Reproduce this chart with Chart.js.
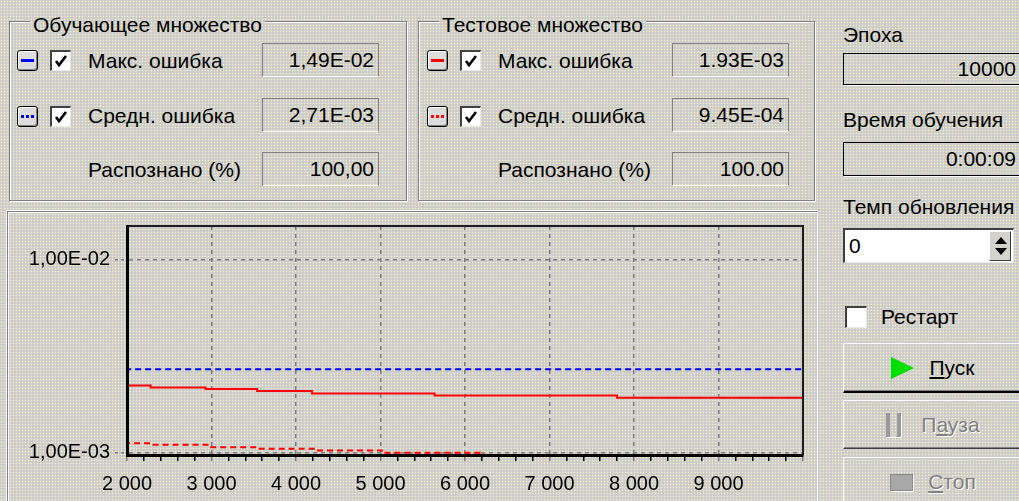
<!DOCTYPE html>
<html lang="ru">
<head>
<meta charset="UTF-8">
<title>Обучение сети</title>
<script src="https://cdn.jsdelivr.net/npm/chart.js@4.4.7/dist/chart.umd.min.js"></script>
<style>
  * { margin: 0; padding: 0; box-sizing: border-box; }
  html, body { width: 1019px; height: 501px; overflow: hidden; }
  body {
    position: relative;
    font-family: 'Liberation Sans', Arial, sans-serif;
    font-size: 21px;
    color: #000;
  }
  .bg, body {
    background-color: #cbcbc9;
    background-image: radial-gradient(circle, rgba(248,244,205,0.95) 0.75px, transparent 1.05px);
    background-size: 3px 3px;
    background-attachment: fixed;
  }
  .txt { position: absolute; line-height: 22px; white-space: nowrap; }
  .group {
    position: absolute;
    border: 1px solid #808080;
    box-shadow: inset 1px 1px 0 #fff, 1px 1px 0 #fff;
  }
  .panel {
    position: absolute;
    border: 1px solid #808080;
    border-right-color: #fff;
    border-bottom-color: #fff;
    box-shadow: inset 1px 1px 0 #fff, -1px -1px 0 #fff;
  }
  .ico {
    position: absolute; width: 21px; height: 21px;
    border: 1px solid #000; border-radius: 3px;
    background: #dcdcdc;
    box-shadow: inset 1px 1px 0 #fff, inset -1px -1px 0 #808080;
  }
  .ico i { position: absolute; left: 3px; right: 3px; top: 8px; height: 0; }
  .chk {
    position: absolute; width: 21px; height: 21px; background: #fff;
    border-top: 2px solid #404040; border-left: 2px solid #404040;
    border-right: 1px solid #e8e8e8; border-bottom: 1px solid #e8e8e8;
  }
  .chk svg { position: absolute; left: 1px; top: 1px; }
  .fld {
    position: absolute; text-align: right; padding-right: 4px;
    border: 1px solid #808080; border-bottom-color: #fff;
  }
  .fld2 {
    position: absolute; text-align: right; padding-right: 3px;
    border: 1px solid #000; border-right: none;
    box-shadow: 1px 1px 0 #fff;
  }
  .btn {
    position: absolute; display: flex; align-items: center; justify-content: center;
    border: 1px solid; border-color: #fff #404040 #404040 #fff;
    box-shadow: inset -1px -1px 0 #808080;
  }
  .btn.def { border-bottom: 2px solid #000; }
  .off { color: #808080; text-shadow: 1px 1px 0 #fff; }
  .tri { width: 0; height: 0; border-left: 23px solid #00e000;
         border-top: 11px solid transparent; border-bottom: 11px solid transparent; margin-right: 15px; }
  .pause { width: 15px; height: 24px; margin-right: 20px;
           border-left: 4px solid #9a9a9a; border-right: 4px solid #9a9a9a;
           box-shadow: 1px 1px 0 #fff; }
  .stop { width: 23px; height: 17px; margin-right: 15px; background: #a8a8a8;
          border: 1px solid #8a8a8a; box-shadow: 1px 1px 0 #fff; }
  .spin {
    position: absolute; background: #fff; padding-left: 4px;
    border-top: 2px solid #404040; border-left: 2px solid #404040;
    border-right: 1px solid #e8e8e8; border-bottom: 1px solid #e8e8e8;
  }
  .spinbtn {
    position: absolute; right: 2px; top: 1px; width: 22px; bottom: 1px;
    background: #d4d2cc; border: 1px solid; border-color: #fff #404040 #404040 #fff;
  }
  .up, .dn { position: absolute; left: 5px; width: 0; height: 0;
             border-left: 6px solid transparent; border-right: 6px solid transparent; }
  .up { top: 5px; border-bottom: 7px solid #000; }
  .dn { bottom: 5px; border-top: 7px solid #000; }
  #plot { position: absolute; left: 8px; top: 208px; width: 807px; height: 293px; }
</style>
</head>
<body>
  <!-- Обучающее множество -->
  <div class="group" style="left:9px;top:21px;width:398px;height:180px"></div>
  <div class="txt bg" style="left:30px;top:14px;padding:0 3px">Обучающее множество</div>
  <div class="ico" style="left:17px;top:50px"><i style="border-top:3px solid #0000ff"></i></div>
  <div class="chk" style="left:50px;top:50px"><svg width="16" height="16"><polyline points="3,8 6,12 13,3" stroke="#000" stroke-width="2.6" fill="none"/></svg></div>
  <div class="txt" style="left:88px;top:50px">Макс. ошибка</div>
  <div class="fld" style="left:262px;top:43px;width:117px;height:34px;line-height:32px">1,49E-02</div>
  <div class="ico" style="left:17px;top:106px"><i style="border-top:3px dotted #0000ff"></i></div>
  <div class="chk" style="left:50px;top:106px"><svg width="16" height="16"><polyline points="3,8 6,12 13,3" stroke="#000" stroke-width="2.6" fill="none"/></svg></div>
  <div class="txt" style="left:88px;top:105px">Средн. ошибка</div>
  <div class="fld" style="left:262px;top:98px;width:117px;height:34px;line-height:32px">2,71E-03</div>
  <div class="txt" style="left:88px;top:159px">Распознано (%)</div>
  <div class="fld" style="left:262px;top:152px;width:117px;height:34px;line-height:32px">100,00</div>

  <!-- Тестовое множество -->
  <div class="group" style="left:418px;top:21px;width:397px;height:180px"></div>
  <div class="txt bg" style="left:439px;top:14px;padding:0 3px">Тестовое множество</div>
  <div class="ico" style="left:427px;top:50px"><i style="border-top:3px solid #ff0000"></i></div>
  <div class="chk" style="left:460px;top:50px"><svg width="16" height="16"><polyline points="3,8 6,12 13,3" stroke="#000" stroke-width="2.6" fill="none"/></svg></div>
  <div class="txt" style="left:498px;top:50px">Макс. ошибка</div>
  <div class="fld" style="left:672px;top:43px;width:117px;height:34px;line-height:32px">1.93E-03</div>
  <div class="ico" style="left:427px;top:106px"><i style="border-top:3px dotted #ff0000"></i></div>
  <div class="chk" style="left:460px;top:106px"><svg width="16" height="16"><polyline points="3,8 6,12 13,3" stroke="#000" stroke-width="2.6" fill="none"/></svg></div>
  <div class="txt" style="left:498px;top:105px">Средн. ошибка</div>
  <div class="fld" style="left:672px;top:98px;width:117px;height:34px;line-height:32px">9.45E-04</div>
  <div class="txt" style="left:498px;top:159px">Распознано (%)</div>
  <div class="fld" style="left:672px;top:152px;width:117px;height:34px;line-height:32px">100.00</div>

  <!-- правая колонка -->
  <div class="txt" style="left:843px;top:24px">Эпоха</div>
  <div class="fld2" style="left:843px;top:53px;width:180px;height:32px;line-height:30px;padding-right:7px">10000</div>
  <div class="txt" style="left:843px;top:109px">Время обучения</div>
  <div class="fld2" style="left:843px;top:142px;width:180px;height:34px;line-height:32px;padding-right:7px">0:00:09</div>
  <div class="txt" style="left:843px;top:196px">Темп обновления</div>
  <div class="spin" style="left:843px;top:228px;width:171px;height:35px;line-height:31px">0<div class="spinbtn"><span class="up"></span><span class="dn"></span></div></div>
  <div class="chk" style="left:845px;top:306px;width:22px;height:22px"></div>
  <div class="txt" style="left:881px;top:306px">Рестарт</div>
  <div class="btn def" style="left:843px;top:343px;width:180px;height:50px"><span class="tri"></span><span><u>П</u>уск</span></div>
  <div class="btn" style="left:843px;top:400px;width:180px;height:49px"><span class="pause"></span><span class="off">П<u>а</u>уза</span></div>
  <div class="btn" style="left:843px;top:457px;width:180px;height:50px"><span class="stop"></span><span class="off"><u>С</u>топ</span></div>

  <!-- график -->
  <div class="panel" style="left:7px;top:211px;width:811px;height:300px"></div>
  <div id="plot"><canvas id="chart"></canvas></div>

<script>
  // эпохи (ось X)
  const xMin = 2000, xMax = 10000, xMajorStep = 1000, xMinorStep = 200;
  // ось Y (лог.)
  const yMin = 0.000975, yMax = 0.0149;
  const yTickValues = [0.001, 0.01];

  // обучающее множество
  const trainMaxEpochs = [2000, 10000];
  const trainMaxError  = [0.0149, 0.0149];
  const trainAvgEpochs = [2000, 5630, 10000];
  const trainAvgError  = [0.00277, 0.00271, 0.00271];

  // тестовое множество
  const testMaxEpochs = [2000, 2280, 2930, 3540, 4190, 5640, 7800, 9400, 10000];
  const testMaxError  = [0.00229, 0.00223, 0.00218, 0.00214, 0.00209, 0.00203, 0.00198, 0.00193, 0.00193];
  const testAvgEpochs = [2000, 2300, 2970, 3540, 4210, 5060, 6220, 7800, 10000];
  const testAvgError  = [0.00116, 0.00112, 0.00110, 0.00107, 0.00105, 0.00103, 0.001, 0.000945, 0.000945];

  const pts = (xs, ys) => xs.map((x, i) => ({ x: x, y: ys[i] }));

  // 1,00E-02
  function fmtE(v) {
    const parts = Number(v).toExponential(2).split('e');
    const ex = parseInt(parts[1]);
    return parts[0].replace('.', ',') + 'E' + (ex < 0 ? '-' : '+') + String(Math.abs(ex)).padStart(2, '0');
  }
  // 2 000
  function fmtThousands(v) {
    return String(v).replace(/\B(?=(\d{3})+(?!\d))/g, ' ');
  }

  const font = { family: "'Liberation Sans', Arial, sans-serif", size: 20 };

  // рамка сверху и справа
  const frame = {
    id: 'frame',
    afterDatasetsDraw(chart) {
      const { ctx, chartArea: a } = chart;
      ctx.save();
      ctx.strokeStyle = '#1c1c1c';
      ctx.lineWidth = 2;
      ctx.beginPath();
      ctx.moveTo(a.left, a.top);
      ctx.lineTo(a.right, a.top);
      ctx.lineTo(a.right, a.bottom);
      ctx.stroke();
      ctx.restore();
    }
  };

  const line = (data, color, dash) => ({
    data: data,
    borderColor: color,
    borderWidth: 2,
    borderDash: dash,
    pointRadius: 0,
    stepped: 'after',
    fill: false
  });

  new Chart(document.getElementById('chart'), {
    type: 'line',
    data: {
      datasets: [
        Object.assign(line(pts(trainMaxEpochs, trainMaxError), '#0000ff', []), { label: 'Обуч. макс. ошибка' }),
        Object.assign(line(pts(trainAvgEpochs, trainAvgError), '#0000ff', [6, 4]), { label: 'Обуч. средн. ошибка' }),
        Object.assign(line(pts(testMaxEpochs, testMaxError), '#ff0000', []), { label: 'Тест. макс. ошибка' }),
        Object.assign(line(pts(testAvgEpochs, testAvgError), '#ff0000', [6, 4]), { label: 'Тест. средн. ошибка' })
      ]
    },
    options: {
      responsive: true,
      maintainAspectRatio: false,
      animation: false,
      layout: { padding: { top: 18, right: 12, left: 0, bottom: 0 } },
      plugins: {
        legend: { display: false },
        tooltip: { enabled: false }
      },
      scales: {
        x: {
          type: 'linear',
          min: xMin,
          max: xMax,
          afterBuildTicks: (s) => {
            const t = [];
            for (let v = xMin; v <= xMax; v += xMinorStep) t.push({ value: v });
            s.ticks = t;
          },
          afterFit: (s) => { s.height = 46; },
          ticks: {
            autoSkip: false,
            maxRotation: 0,
            color: '#000',
            font: font,
            padding: 11,
            callback: (v) => (v % xMajorStep === 0 && v < xMax) ? fmtThousands(v) : ''
          },
          grid: {
            color: (c) => (c.tick && c.tick.value % xMajorStep === 0 && c.tick.value > xMin && c.tick.value < xMax) ? '#7c7c7c' : 'rgba(0,0,0,0)',
            tickColor: (c) => (c.tick && c.tick.value % xMajorStep === 0) ? '#7c7c7c' : '#000',
            tickLength: 6,
            lineWidth: 1.5
          },
          border: { display: true, color: '#000', width: 3, z: 1, dash: [4, 4] }
        },
        y: {
          type: 'logarithmic',
          min: yMin,
          max: yMax,
          afterBuildTicks: (s) => { s.ticks = yTickValues.map((v) => ({ value: v })); },
          afterFit: (s) => { s.width = 119; },
          ticks: {
            color: '#000',
            font: font,
            padding: 5,
            callback: (v) => fmtE(v)
          },
          grid: {
            color: '#7c7c7c',
            tickColor: '#7c7c7c',
            tickLength: 12,
            lineWidth: 1.5,
            tickBorderDash: [3, 3]
          },
          border: { display: true, color: '#000', width: 3, z: 1, dash: [4, 4] }
        }
      }
    },
    plugins: [frame]
  });
</script>
</body>
</html>
